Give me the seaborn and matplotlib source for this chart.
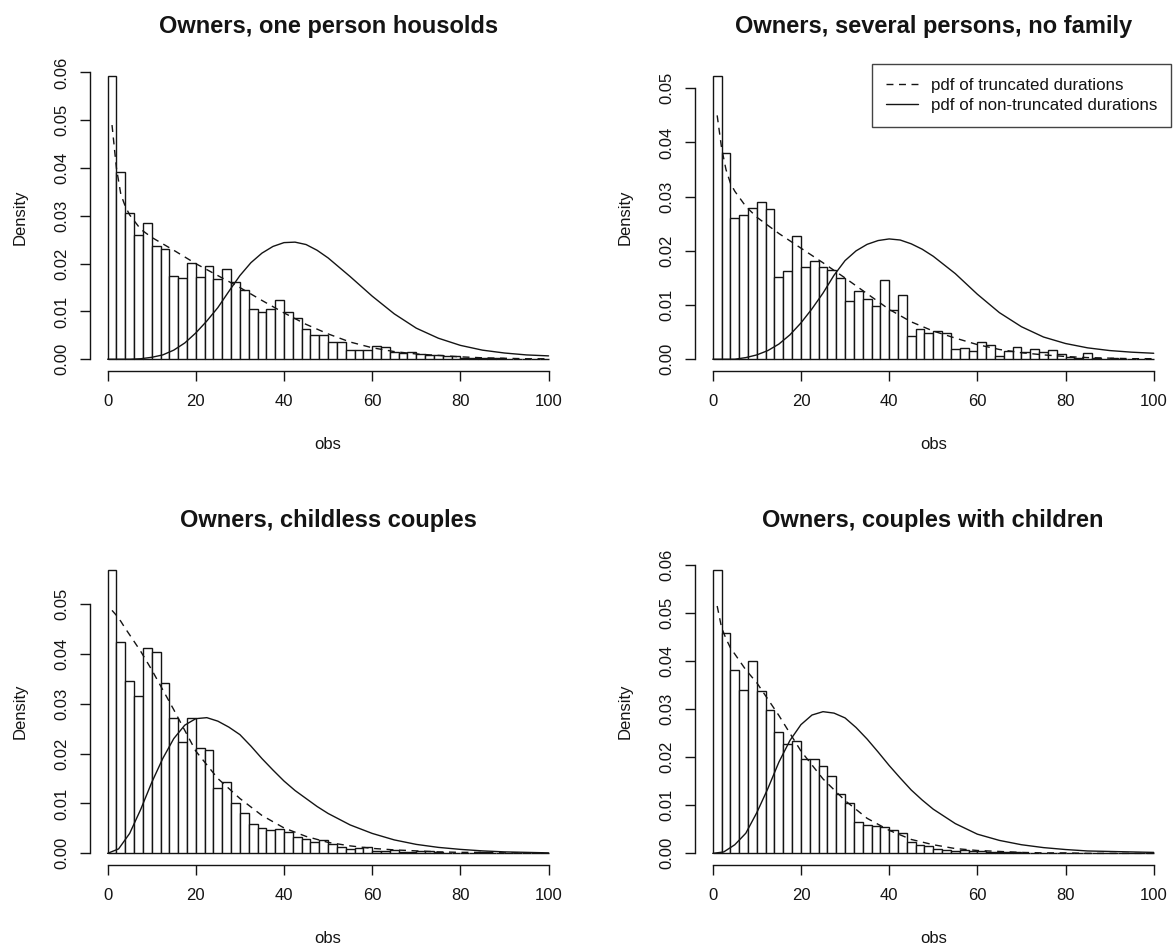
import numpy as np
import pandas as pd
import matplotlib
matplotlib.use("Agg")
import matplotlib.pyplot as plt
import seaborn as sns
from matplotlib.lines import Line2D

sns.set_theme(style="white")
plt.rcParams['font.family'] = ['Liberation Sans', 'DejaVu Sans']

titles = ["Owners, one person housolds",
          "Owners, several persons, no family",
          "Owners, childless couples",
          "Owners, couples with children"]

# histogram densities, bins of width 2 from 0 to 100
dens_one = [0.0593, 0.0391, 0.0306, 0.0260, 0.0286, 0.0236, 0.0230, 0.0174, 0.0169, 0.0202,
            0.0172, 0.0195, 0.0167, 0.0188, 0.0162, 0.0145, 0.0106, 0.0099, 0.0106, 0.0124,
            0.0099, 0.0087, 0.0064, 0.0050, 0.0051, 0.0037, 0.0036, 0.0019, 0.0019, 0.0020,
            0.0028, 0.0026, 0.0015, 0.0014, 0.0016, 0.0011, 0.0009, 0.0008, 0.0006, 0.0006,
            0.0003, 0.0003, 0.0002, 0.0003, 0.0002, 0.0001, 0.0001, 0.0001, 0.0000, 0.0000]
dens_several = [0.0523, 0.0381, 0.0260, 0.0267, 0.0280, 0.0291, 0.0277, 0.0151, 0.0163, 0.0227,
                0.0171, 0.0182, 0.0171, 0.0165, 0.0150, 0.0107, 0.0126, 0.0112, 0.0099, 0.0147,
                0.0090, 0.0118, 0.0042, 0.0056, 0.0049, 0.0053, 0.0048, 0.0018, 0.0021, 0.0015,
                0.0032, 0.0026, 0.0006, 0.0015, 0.0022, 0.0013, 0.0019, 0.0014, 0.0017, 0.0009,
                0.0004, 0.0003, 0.0012, 0.0002, 0.0001, 0.0002, 0.0001, 0.0000, 0.0001, 0.0000]
dens_childless = [0.0568, 0.0423, 0.0345, 0.0315, 0.0412, 0.0403, 0.0342, 0.0271, 0.0223, 0.0271,
                  0.0211, 0.0207, 0.0132, 0.0144, 0.0100, 0.0080, 0.0058, 0.0050, 0.0046, 0.0049,
                  0.0043, 0.0032, 0.0028, 0.0022, 0.0027, 0.0018, 0.0013, 0.0009, 0.0010, 0.0013,
                  0.0005, 0.0005, 0.0007, 0.0003, 0.0003, 0.0004, 0.0005, 0.0002, 0.0001, 0.0001,
                  0.0001, 0.0001, 0.0002, 0.0001, 0.0000, 0.0000, 0.0000, 0.0000, 0.0000, 0.0000]
dens_children = [0.0590, 0.0458, 0.0382, 0.0340, 0.0401, 0.0337, 0.0299, 0.0253, 0.0228, 0.0233,
                 0.0197, 0.0197, 0.0182, 0.0161, 0.0123, 0.0105, 0.0065, 0.0060, 0.0058, 0.0054,
                 0.0048, 0.0042, 0.0024, 0.0018, 0.0015, 0.0010, 0.0008, 0.0005, 0.0006, 0.0004,
                 0.0004, 0.0003, 0.0003, 0.0002, 0.0002, 0.0001, 0.0001, 0.0000, 0.0000, 0.0000,
                 0.0000, 0.0000, 0.0000, 0.0000, 0.0000, 0.0000, 0.0000, 0.0000, 0.0000, 0.0000]

# pdf of truncated durations (dashed)
trunc_x = [1, 2, 3, 4, 5, 7.5, 10, 15, 20, 25, 30, 35, 40, 45, 50, 55, 60, 65, 70, 75, 80, 85, 90, 95, 100]
trunc_one = [0.0490, 0.0400, 0.0345, 0.0320, 0.0302, 0.0272, 0.0255, 0.0228, 0.0200, 0.0175, 0.0150,
             0.0123, 0.0097, 0.0073, 0.0053, 0.0036, 0.0024, 0.0016, 0.0011, 0.0008, 0.0005, 0.0003,
             0.0002, 0.0001, 0.0001]
trunc_several = [0.0450, 0.0390, 0.0350, 0.0325, 0.0310, 0.0282, 0.0262, 0.0232, 0.0205, 0.0178, 0.0150,
                 0.0121, 0.0092, 0.0069, 0.0052, 0.0039, 0.0027, 0.0018, 0.0012, 0.0008, 0.0005, 0.0003,
                 0.0002, 0.0001, 0.0001]
trunc_childless = [0.0487, 0.0477, 0.0465, 0.0451, 0.0438, 0.0405, 0.0368, 0.0288, 0.0205, 0.0150, 0.0110,
                   0.0076, 0.0051, 0.0034, 0.0022, 0.0015, 0.0010, 0.0007, 0.0005, 0.0003, 0.0002, 0.0002,
                   0.0001, 0.0001, 0.0000]
trunc_children = [0.0515, 0.0470, 0.0447, 0.0428, 0.0415, 0.0382, 0.0355, 0.0287, 0.0213, 0.0155, 0.0110,
                  0.0073, 0.0048, 0.0029, 0.0018, 0.0010, 0.0006, 0.0004, 0.0002, 0.0001, 0.0001, 0.0000,
                  0.0000, 0.0000, 0.0000]

# pdf of non-truncated durations (solid)
full_x = [0, 2.5, 5, 7.5, 10, 12.5, 15, 17.5, 20, 22.5, 25, 27.5, 30, 32.5, 35, 37.5, 40, 42.5, 45, 47.5,
          50, 55, 60, 65, 70, 75, 80, 85, 90, 95, 100]
full_one = [0.0000, 0.0000, 0.0000, 0.0001, 0.0004, 0.0009, 0.0019, 0.0034, 0.0055, 0.0080, 0.0108,
            0.0142, 0.0175, 0.0202, 0.0222, 0.0236, 0.0244, 0.0245, 0.0240, 0.0228, 0.0212, 0.0173,
            0.0132, 0.0095, 0.0065, 0.0044, 0.0029, 0.0019, 0.0013, 0.0009, 0.0007]
full_several = [0.0000, 0.0000, 0.0000, 0.0003, 0.0008, 0.0016, 0.0028, 0.0045, 0.0067, 0.0093, 0.0122,
                0.0155, 0.0182, 0.0200, 0.0212, 0.0219, 0.0222, 0.0220, 0.0213, 0.0203, 0.0190, 0.0158,
                0.0120, 0.0086, 0.0060, 0.0041, 0.0029, 0.0021, 0.0016, 0.0013, 0.0011]
full_childless = [0.0000, 0.0009, 0.0040, 0.0088, 0.0142, 0.0190, 0.0230, 0.0257, 0.0270, 0.0272, 0.0265,
                  0.0253, 0.0238, 0.0215, 0.0190, 0.0167, 0.0145, 0.0126, 0.0110, 0.0094, 0.0080, 0.0057,
                  0.0040, 0.0027, 0.0018, 0.0012, 0.0008, 0.0005, 0.0003, 0.0002, 0.0001]
full_children = [0.0000, 0.0003, 0.0018, 0.0042, 0.0085, 0.0135, 0.0190, 0.0235, 0.0268, 0.0288, 0.0295,
                 0.0292, 0.0282, 0.0262, 0.0238, 0.0211, 0.0183, 0.0157, 0.0132, 0.0111, 0.0092, 0.0062,
                 0.0040, 0.0027, 0.0018, 0.0012, 0.0008, 0.0005, 0.0004, 0.0003, 0.0002]

yticks_six = [0.00, 0.01, 0.02, 0.03, 0.04, 0.05, 0.06]
yticks_five = [0.00, 0.01, 0.02, 0.03, 0.04, 0.05]
xticks = [0, 20, 40, 60, 80, 100]

panels = [
    (titles[0], dens_one, trunc_one, full_one, yticks_six),
    (titles[1], dens_several, trunc_several, full_several, yticks_five),
    (titles[2], dens_childless, trunc_childless, full_childless, yticks_five),
    (titles[3], dens_children, trunc_children, full_children, yticks_six),
]

bin_width = 2
bin_edges = [float(e) for e in np.arange(0, 100 + bin_width, bin_width)]
bin_mid = [e + bin_width / 2 for e in bin_edges[:-1]]

ink = '#141414'
fs = 12
dash = (0, (5, 4))

fig = plt.figure(figsize=(11.73, 9.47), dpi=100)
lefts = [0.0767, 0.5926]
bottoms = [0.6087, 0.0869]
w, h = 0.406, 0.3232

for i, (title, dens, trunc_y, full_y, yticks) in enumerate(panels):
    ax = fig.add_axes([lefts[i % 2], bottoms[i // 2], w, h])
    hist_df = pd.DataFrame({'obs': bin_mid, 'dens': dens})
    sns.histplot(data=hist_df, x='obs', weights='dens', bins=bin_edges, stat='count',
                 color='white', edgecolor=ink, linewidth=1.0, alpha=1, ax=ax)
    sns.lineplot(x=trunc_x, y=trunc_y, color=ink, linewidth=1.0, linestyle=dash, ax=ax)
    sns.lineplot(x=full_x, y=full_y, color=ink, linewidth=1.0, ax=ax)

    # R-style limits: 4% padding around the data range
    ymax = max(dens)
    ax.set_xlim(-4, 104)
    ax.set_ylim(-0.04 * ymax, 1.04 * ymax)
    ax.set_xticks(xticks)
    ax.set_xticklabels([str(t) for t in xticks], fontsize=fs, color=ink)
    ax.set_yticks(yticks)
    ax.set_yticklabels([f"{t:.2f}" for t in yticks], fontsize=fs, color=ink,
                       rotation=90, va='center')
    for side in ['top', 'right']:
        ax.spines[side].set_visible(False)
    for side in ['left', 'bottom']:
        ax.spines[side].set_color(ink)
        ax.spines[side].set_linewidth(1.0)
    ax.spines['bottom'].set_bounds(0, 100)
    ax.spines['left'].set_bounds(0, yticks[-1])
    ax.tick_params(axis='x', bottom=True, direction='out', length=7, width=1.0, color=ink, pad=10)
    ax.tick_params(axis='y', left=True, direction='out', length=7, width=1.0, color=ink, pad=8)
    ax.set_xlabel("obs", fontsize=fs, color=ink, labelpad=20)
    ax.set_ylabel("Density", fontsize=fs, color=ink, labelpad=19)
    ax.set_title(title, fontsize=17, fontweight='bold', color=ink, pad=23)
    ax.grid(False)

    if i == 1:
        handles = [Line2D([], [], color=ink, linewidth=1.0, linestyle=dash),
                   Line2D([], [], color=ink, linewidth=1.0)]
        leg = ax.legend(handles, ["pdf of truncated durations", "pdf of non-truncated durations"],
                        loc='upper right', borderaxespad=0, fontsize=12.2, frameon=True,
                        fancybox=False, handlelength=1.88, handletextpad=0.8,
                        labelspacing=0.3, borderpad=0.8)
        leg.get_frame().set_edgecolor(ink)
        leg.get_frame().set_linewidth(1.0)
        for t in leg.get_texts():
            t.set_color(ink)

fig.savefig("out.png", dpi=100, facecolor='white')
